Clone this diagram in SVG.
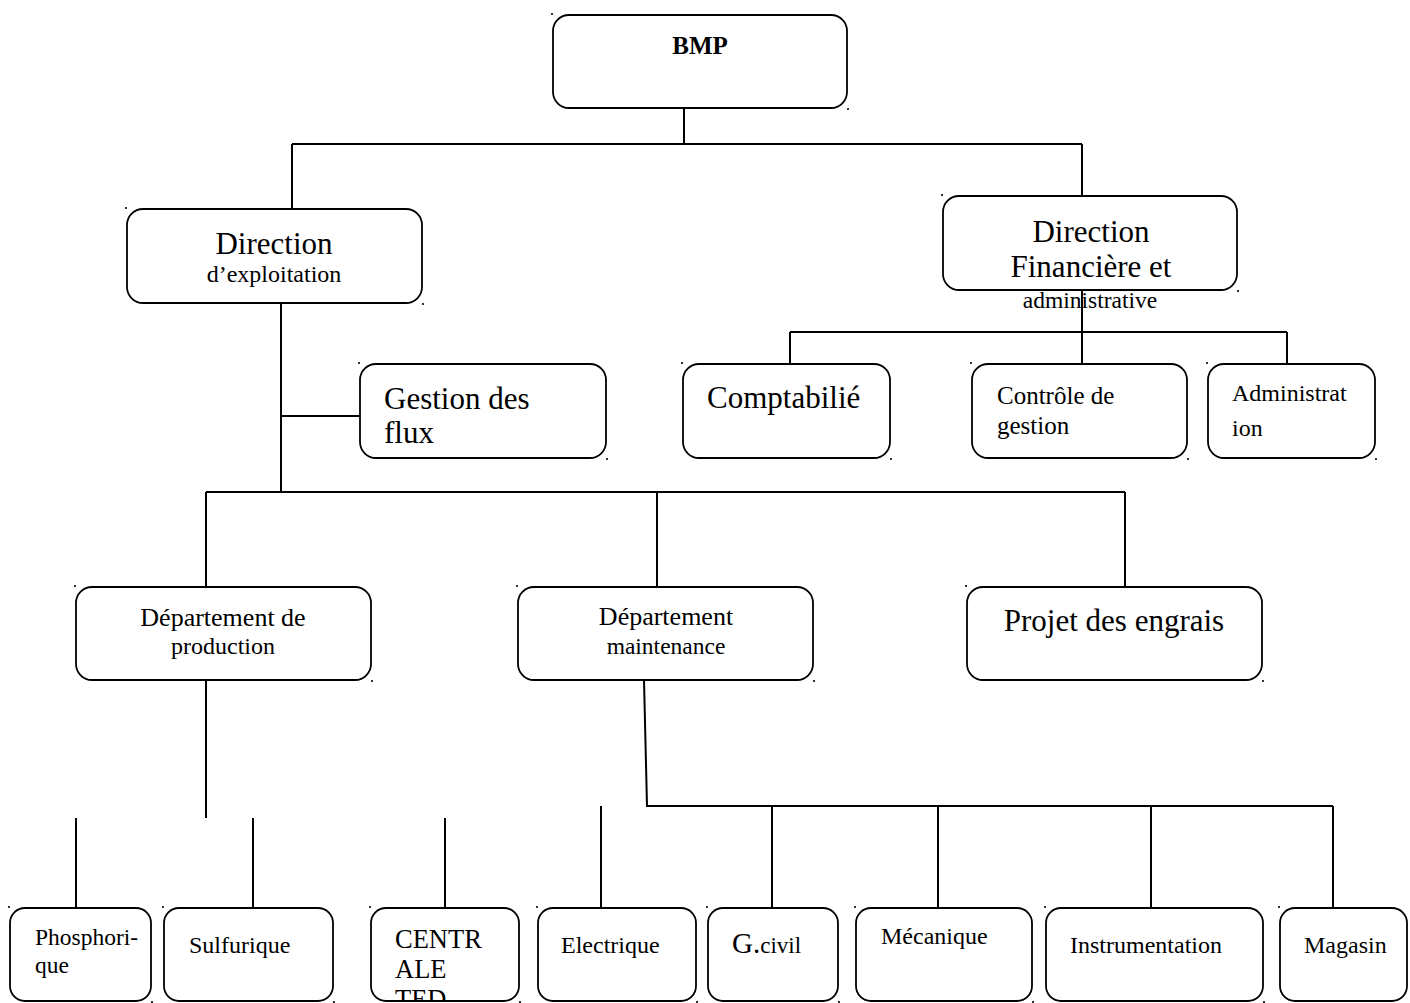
<svg xmlns="http://www.w3.org/2000/svg" width="1410" height="1003" viewBox="0 0 1410 1003">
<style>
.box{fill:#fff;stroke:#000;stroke-width:1.8}
.ln{fill:none;stroke:#000;stroke-width:2}
.dot{fill:#333}
text{font-family:"Liberation Serif","Times New Roman",serif;fill:#000}
.m{text-anchor:middle}
</style>
<defs>
<clipPath id="clipCentr"><rect x="371" y="908" width="148" height="93" rx="15"/></clipPath>
</defs>
<g id="connectors">
<path class="ln" d="M684 108V144M292 144H1082M292 144V209M1082 144V196"/>
<path class="ln" d="M1082 290V364M790 332H1287M790 332V364M1287 332V364"/>
<path class="ln" d="M281 303V492M281 416H360M206 492H1125M206 492V587M657 492V587M1125 492V587"/>
<path class="ln" d="M206 680V818M76 818V908M253 818V908M445 818V908M601 806V908"/>
<path class="ln" d="M644 680L647 806H1333M772 806V908M938 806V908M1151 806V908M1333 806V908"/>
</g>
<g id="bmp">
<rect class="box" x="553" y="15" width="294" height="93" rx="16"/>
<text class="m" x="700" y="54" font-size="25" font-weight="bold">BMP</text>
</g>
<g id="dir-exploitation">
<rect class="box" x="127" y="209" width="295" height="94" rx="16"/>
<text class="m" x="274" y="254" font-size="31">Direction</text>
<text class="m" x="274" y="282" font-size="24">d’exploitation</text>
</g>
<g id="dir-financiere">
<rect class="box" x="943" y="196" width="294" height="94" rx="16"/>
<text class="m" x="1091" y="242" font-size="31">Direction</text>
<text class="m" x="1091" y="277" font-size="31">Financière et</text>
<text class="m" x="1090" y="308" font-size="23.5">administrative</text>
</g>
<g id="gestion-flux">
<rect class="box" x="360" y="364" width="246" height="94" rx="16"/>
<text x="384" y="409" font-size="31">Gestion des</text>
<text x="384" y="443" font-size="31">flux</text>
</g>
<g id="comptabilite">
<rect class="box" x="683" y="364" width="207" height="94" rx="16"/>
<text x="707" y="408" font-size="31">Comptabilié</text>
</g>
<g id="controle-gestion">
<rect class="box" x="972" y="364" width="215" height="94" rx="16"/>
<text x="997" y="404" font-size="25">Contrôle de</text>
<text x="997" y="434" font-size="25">gestion</text>
</g>
<g id="administration">
<rect class="box" x="1208" y="364" width="167" height="94" rx="16"/>
<text x="1232" y="401" font-size="24">Administrat</text>
<text x="1232" y="436" font-size="24">ion</text>
</g>
<g id="dept-production">
<rect class="box" x="76" y="587" width="295" height="93" rx="16"/>
<text class="m" x="223" y="626" font-size="26">Département de</text>
<text class="m" x="223" y="654" font-size="24">production</text>
</g>
<g id="dept-maintenance">
<rect class="box" x="518" y="587" width="295" height="93" rx="16"/>
<text class="m" x="666" y="625" font-size="26">Département</text>
<text class="m" x="666" y="654" font-size="23.5">maintenance</text>
</g>
<g id="projet-engrais">
<rect class="box" x="967" y="587" width="295" height="93" rx="16"/>
<text class="m" x="1114" y="631" font-size="31">Projet des engrais</text>
</g>
<g id="phosphorique">
<rect class="box" x="10" y="908" width="141" height="93" rx="15"/>
<text x="35" y="945" font-size="23.5">Phosphori-</text>
<text x="35" y="973" font-size="23.5">que</text>
</g>
<g id="sulfurique">
<rect class="box" x="164" y="908" width="169" height="93" rx="15"/>
<text x="189" y="953" font-size="24">Sulfurique</text>
</g>
<g id="centrale">
<rect class="box" x="371" y="908" width="148" height="93" rx="15"/>
<g clip-path="url(#clipCentr)">
<text x="395" y="948" font-size="26.5">CENTR</text>
<text x="395" y="978" font-size="26.5">ALE</text>
<text x="395" y="1008" font-size="26.5">TED</text>
</g>
</g>
<g id="electrique">
<rect class="box" x="538" y="908" width="158" height="93" rx="15"/>
<text x="561" y="953" font-size="24">Electrique</text>
</g>
<g id="gcivil">
<rect class="box" x="708" y="908" width="130" height="93" rx="15"/>
<text x="732" y="953" font-size="29">G.<tspan font-size="23">civil</tspan></text>
</g>
<g id="mecanique">
<rect class="box" x="856" y="908" width="176" height="93" rx="15"/>
<text x="881" y="944" font-size="24">Mécanique</text>
</g>
<g id="instrumentation">
<rect class="box" x="1046" y="908" width="217" height="93" rx="15"/>
<text x="1070" y="953" font-size="24">Instrumentation</text>
</g>
<g id="magasin">
<rect class="box" x="1280" y="908" width="127" height="93" rx="15"/>
<text x="1304" y="953" font-size="24">Magasin</text>
</g>
<g id="corner-dots">
<rect class="dot" x="551" y="13" width="2" height="2"/><rect class="dot" x="847" y="108" width="2" height="2"/>
<rect class="dot" x="125" y="207" width="2" height="2"/><rect class="dot" x="422" y="303" width="2" height="2"/>
<rect class="dot" x="941" y="194" width="2" height="2"/><rect class="dot" x="1237" y="290" width="2" height="2"/>
<rect class="dot" x="358" y="362" width="2" height="2"/><rect class="dot" x="606" y="458" width="2" height="2"/>
<rect class="dot" x="681" y="362" width="2" height="2"/><rect class="dot" x="890" y="458" width="2" height="2"/>
<rect class="dot" x="970" y="362" width="2" height="2"/><rect class="dot" x="1187" y="458" width="2" height="2"/>
<rect class="dot" x="1206" y="362" width="2" height="2"/><rect class="dot" x="1375" y="458" width="2" height="2"/>
<rect class="dot" x="74" y="585" width="2" height="2"/><rect class="dot" x="371" y="680" width="2" height="2"/>
<rect class="dot" x="516" y="585" width="2" height="2"/><rect class="dot" x="813" y="680" width="2" height="2"/>
<rect class="dot" x="965" y="585" width="2" height="2"/><rect class="dot" x="1262" y="680" width="2" height="2"/>
<rect class="dot" x="8" y="906" width="2" height="2"/><rect class="dot" x="151" y="1001" width="2" height="2"/>
<rect class="dot" x="162" y="906" width="2" height="2"/><rect class="dot" x="333" y="1001" width="2" height="2"/>
<rect class="dot" x="369" y="906" width="2" height="2"/><rect class="dot" x="519" y="1001" width="2" height="2"/>
<rect class="dot" x="536" y="906" width="2" height="2"/><rect class="dot" x="696" y="1001" width="2" height="2"/>
<rect class="dot" x="706" y="906" width="2" height="2"/><rect class="dot" x="838" y="1001" width="2" height="2"/>
<rect class="dot" x="854" y="906" width="2" height="2"/><rect class="dot" x="1032" y="1001" width="2" height="2"/>
<rect class="dot" x="1044" y="906" width="2" height="2"/><rect class="dot" x="1263" y="1001" width="2" height="2"/>
<rect class="dot" x="1278" y="906" width="2" height="2"/>
</g>
</svg>
